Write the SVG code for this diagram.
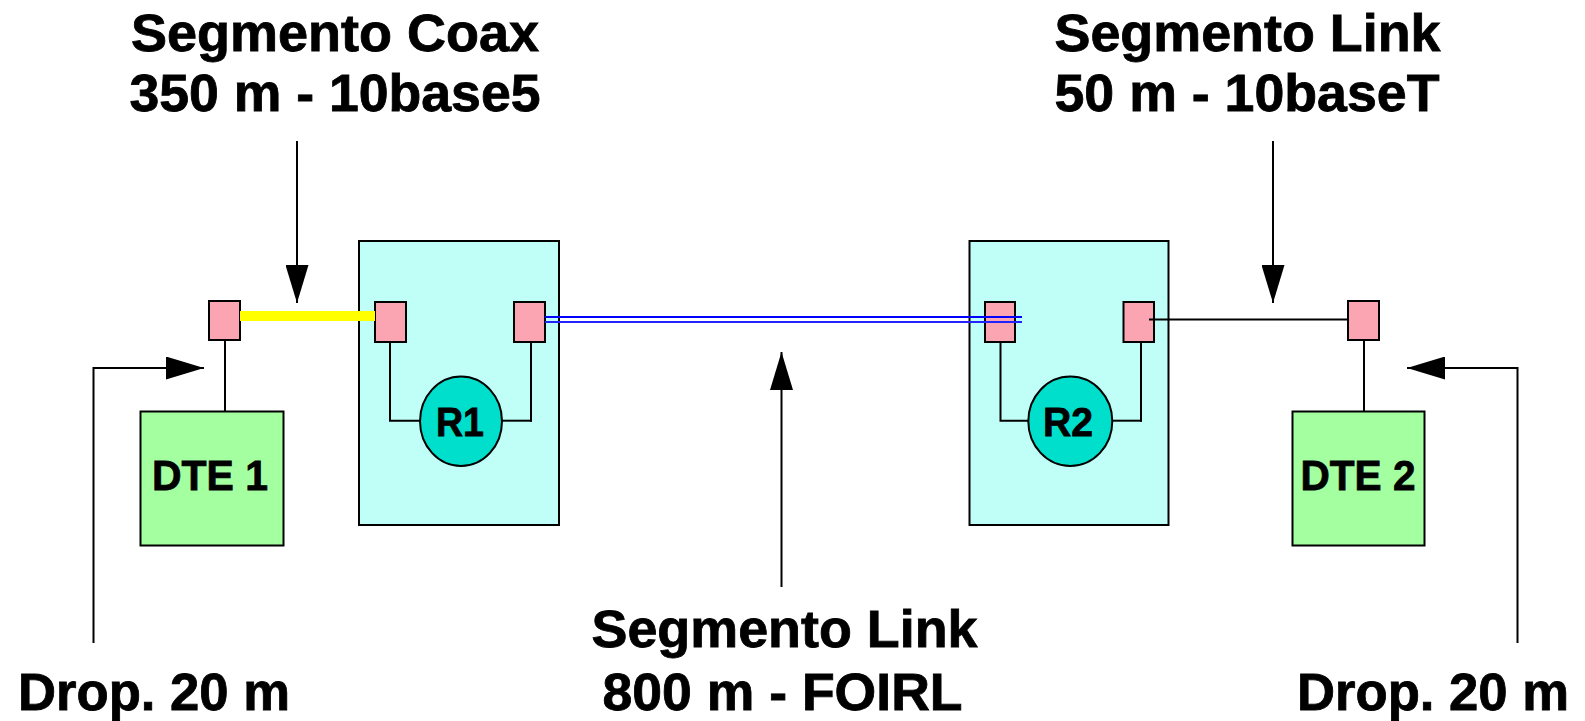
<svg xmlns="http://www.w3.org/2000/svg" width="1585" height="721" viewBox="0 0 1585 721">
<defs>
<style>
.t{font-family:"Liberation Sans",Arial,sans-serif;font-weight:bold;fill:#000;stroke:#000;stroke-width:0.8;text-anchor:middle}
.big{font-size:51px}
.dte{font-size:42px}
.rep{font-size:41px}
.ln{stroke:#000;stroke-width:2;fill:none}
.port{fill:#FCA5B2;stroke:#000;stroke-width:2}
.box{fill:#C0FFF8;stroke:#000;stroke-width:2}
.dtebox{fill:#A4FFA0;stroke:#000;stroke-width:2}
.rpt{fill:#00DFCB;stroke:#000;stroke-width:2}
</style>
<marker id="ah" markerWidth="38" markerHeight="23" refX="38" refY="11.5" orient="auto" markerUnits="userSpaceOnUse">
<path d="M0,0 L38,11.5 L0,23 Z" fill="#000"/>
</marker>
</defs>

<g id="repeater1">
<rect class="box" x="359" y="241" width="200" height="284"/>
<rect class="port" x="375" y="302" width="31" height="40"/>
<rect class="port" x="514" y="302" width="31" height="40"/>
<ellipse class="rpt" cx="461" cy="421.3" rx="41" ry="44.7"/>
<text class="t rep" x="460" y="436" textLength="48" lengthAdjust="spacingAndGlyphs">R1</text>
</g>

<g id="repeater2">
<rect class="box" x="969.5" y="241" width="199" height="284"/>
<rect class="port" x="985" y="302" width="30" height="40"/>
<rect class="port" x="1123.5" y="302" width="30.5" height="40"/>
<ellipse class="rpt" cx="1070.3" cy="421.3" rx="42" ry="44.7"/>
<text class="t rep" x="1068" y="436" textLength="50" lengthAdjust="spacingAndGlyphs">R2</text>
</g>

<g id="dte1">
<rect class="port" x="209" y="301" width="31" height="39"/>
<rect class="dtebox" x="140.5" y="411.5" width="143" height="134"/>
<text class="t dte" x="210" y="490" textLength="116" lengthAdjust="spacingAndGlyphs">DTE 1</text>
</g>

<g id="dte2">
<rect class="port" x="1348" y="301" width="31" height="39"/>
<rect class="dtebox" x="1292.5" y="411.5" width="132" height="134"/>
<text class="t dte" x="1358" y="490" textLength="115" lengthAdjust="spacingAndGlyphs">DTE 2</text>
</g>

<g id="connectors">
<line x1="240" y1="316" x2="375" y2="316" stroke="#FFFF00" stroke-width="10"/>
<line x1="545" y1="317" x2="1022" y2="317" stroke="#0000FF" stroke-width="2"/>
<line x1="545" y1="322" x2="1022" y2="322" stroke="#2222FF" stroke-width="2"/>
<line class="ln" x1="1149" y1="319.5" x2="1348" y2="319.5"/>
<line class="ln" x1="225" y1="340" x2="225" y2="412"/>
<line class="ln" x1="1364" y1="340" x2="1364" y2="412"/>
<polyline class="ln" points="390,342 390,420.7 420,420.7"/>
<polyline class="ln" points="502,420.7 532,420.7"/>
<line class="ln" x1="531" y1="342" x2="531" y2="421.7"/>
<polyline class="ln" points="1000.5,342 1000.5,420.7 1028.5,420.7"/>
<polyline class="ln" points="1112,420.7 1142,420.7"/>
<line class="ln" x1="1141" y1="342" x2="1141" y2="421.7"/>
<line class="ln" x1="297" y1="141" x2="297" y2="303" marker-end="url(#ah)"/>
<line class="ln" x1="1273" y1="141" x2="1273" y2="303" marker-end="url(#ah)"/>
<line class="ln" x1="781.5" y1="587" x2="781.5" y2="352" marker-end="url(#ah)"/>
<polyline class="ln" points="93.5,643 93.5,368 204,368" marker-end="url(#ah)"/>
<polyline class="ln" points="1517.5,643 1517.5,368 1407,368" marker-end="url(#ah)"/>
</g>

<g id="labels">
<text class="t big" x="335" y="51" textLength="408" lengthAdjust="spacingAndGlyphs">Segmento Coax</text>
<text class="t big" x="335" y="111" textLength="411" lengthAdjust="spacingAndGlyphs">350 m - 10base5</text>
<text class="t big" x="1247.5" y="51" textLength="386" lengthAdjust="spacingAndGlyphs">Segmento Link</text>
<text class="t big" x="1247" y="111" textLength="385" lengthAdjust="spacingAndGlyphs">50 m - 10baseT</text>
<text class="t big" x="784.5" y="647" textLength="386" lengthAdjust="spacingAndGlyphs">Segmento Link</text>
<text class="t big" x="782.5" y="710" textLength="360" lengthAdjust="spacingAndGlyphs">800 m - FOIRL</text>
<text class="t big" x="154" y="710" textLength="272" lengthAdjust="spacingAndGlyphs">Drop. 20 m</text>
<text class="t big" x="1433" y="710" textLength="272" lengthAdjust="spacingAndGlyphs">Drop. 20 m</text>
</g>
</svg>
